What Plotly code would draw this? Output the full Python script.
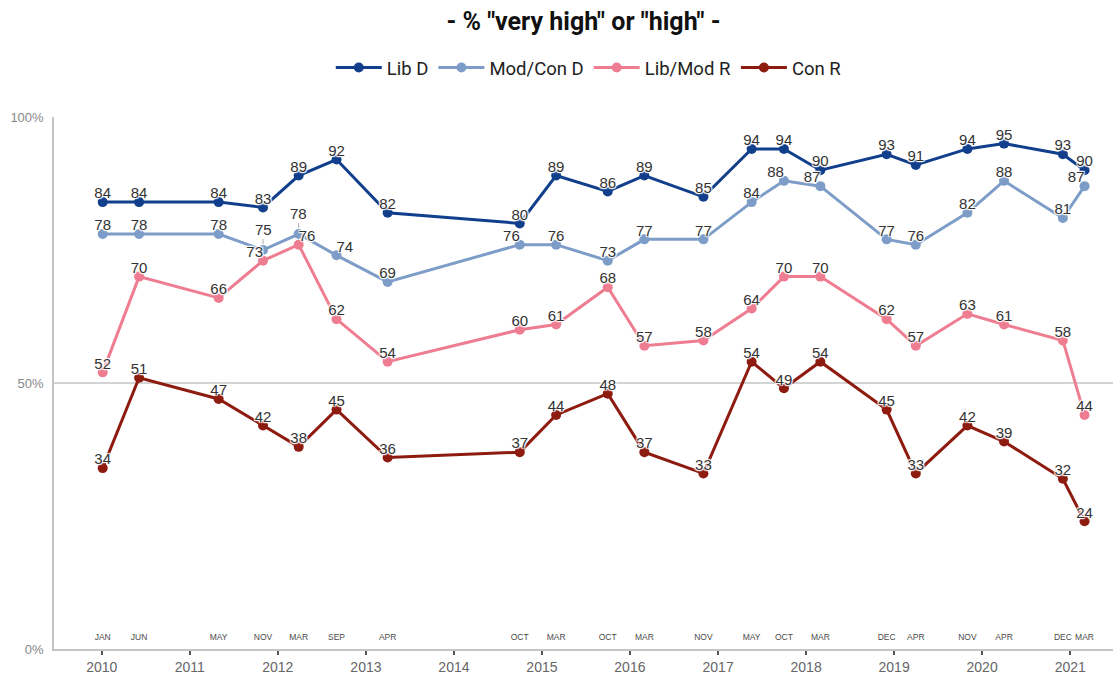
import plotly.graph_objects as go

# ---------------- data ----------------
dates = ["2010-01-05", "2010-06-05", "2011-05-01", "2011-11-01", "2012-03-28",
         "2012-09-01", "2013-04-01", "2014-10-01", "2015-03-01", "2015-10-01",
         "2016-03-01", "2016-11-01", "2017-05-20", "2017-10-01", "2018-03-01",
         "2018-12-01", "2019-04-01", "2019-11-01", "2020-04-01", "2020-12-01",
         "2021-03-01"]
month_labels = ["JAN", "JUN", "MAY", "NOV", "MAR", "SEP", "APR", "OCT", "MAR", "OCT",
                "MAR", "NOV", "MAY", "OCT", "MAR", "DEC", "APR", "NOV", "APR", "DEC", "MAR"]

lib_d =     [84, 84, 84, 83, 89, 92, 82, 80, 89, 86, 89, 85, 94, 94, 90, 93, 91, 94, 95, 93, 90]
modcon_d =  [78, 78, 78, 75, 78, 74, 69, 76, 76, 73, 77, 77, 84, 88, 87, 77, 76, 82, 88, 81, 87]
libmod_r =  [52, 70, 66, 73, 76, 62, 54, 60, 61, 68, 57, 58, 64, 70, 70, 62, 57, 63, 61, 58, 44]
con_r =     [34, 51, 47, 42, 38, 45, 36, 37, 44, 48, 37, 33, 54, 49, 54, 45, 33, 42, 39, 32, 24]

series_names = ["Lib D", "Mod/Con D", "Lib/Mod R", "Con R"]
series_values = [lib_d, modcon_d, libmod_r, con_r]
series_colors = ["#123f8c", "#7d9dc8", "#ef7d91", "#8e1b10"]

year_ticks = [f"{y}-01-01" for y in range(2010, 2022)]
year_labels = [str(y) for y in range(2010, 2022)]
y_ticks = [0, 50, 100]
y_labels = ["0%", "50%", "100%"]

# label placement tweaks (index -> position); None = use leader annotation
label_pos = {
    "Lib D": {},
    "Mod/Con D": {3: None, 4: None, 5: "top right", 7: "top left", 13: "top left",
                  14: "top left", 20: "top left"},
    "Lib/Mod R": {3: "top left", 4: "top right"},
    "Con R": {},
}

fig = go.Figure()

for name, vals, col in zip(series_names, series_values, series_colors):
    fig.add_trace(go.Scatter(
        x=dates, y=vals, name=name, mode="lines+markers",
        line=dict(color=col, width=3),
        marker=dict(color=col, size=10),
        showlegend=True,
    ))

halo = "1px 1px 1px #fff, -1px -1px 1px #fff, 1px -1px 1px #fff, -1px 1px 1px #fff, 0px 0px 2px #fff"
for name, vals in zip(series_names, series_values):
    tweaks = label_pos[name]
    texts, poss = [], []
    for i, v in enumerate(vals):
        p = tweaks.get(i, "top center")
        if i in tweaks and p is None:
            texts.append("")
            poss.append("top center")
            fig.add_annotation(
                x=dates[i], y=v, text=str(v), showarrow=True, arrowhead=0,
                arrowwidth=1, arrowcolor="#aaaaaa", ax=0, ay=-21, standoff=6,
                font=dict(family="Liberation Sans, Arial", size=15, color="#333333"),
            )
        else:
            texts.append(str(v))
            poss.append(p)
    fig.add_trace(go.Scatter(
        x=dates, y=vals, mode="text", text=texts, textposition=poss,
        textfont=dict(family="Liberation Sans, Arial", size=15, color="#333333",
                      shadow=halo),
        showlegend=False, cliponaxis=False, hoverinfo="skip",
    ))

# month labels along bottom
fig.add_trace(go.Scatter(
    x=dates, y=[2] * len(dates), mode="text", text=month_labels,
    textposition="middle center",
    textfont=dict(family="Liberation Sans, Arial", size=8.5, color="#4a4a4a"),
    showlegend=False, cliponaxis=False, hoverinfo="skip",
))

fig.add_shape(type="line", xref="paper", x0=0, x1=1, yref="y", y0=50, y1=50,
              line=dict(color="#c4c4c4", width=1.5), layer="below")

fig.update_layout(
    width=1113, height=675,
    margin=dict(l=54, r=0, t=117, b=24),
    paper_bgcolor="white", plot_bgcolor="white",
    title=dict(text='- % "very high" or "high" -', x=0.5, xref="paper",
               y=1 - 21 / 675, yref="container", yanchor="middle",
               font=dict(family="Roboto", size=25, color="#111111", weight=700)),
    legend=dict(orientation="h", x=0.505, xanchor="center", xref="paper",
                y=1.092, yanchor="middle",
                font=dict(family="Roboto", size=18.5, color="#222222"),
                itemwidth=46),
    showlegend=True,
)

fig.update_xaxes(
    type="date", range=["2009-06-17", "2021-06-27"],
    tickvals=year_ticks, ticktext=year_labels,
    ticks="outside", ticklen=4, tickwidth=2, tickcolor="#555555",
    showline=True, linecolor="#c4c4c4", linewidth=2,
    showgrid=False, zeroline=False,
    tickfont=dict(family="Liberation Sans, Arial", size=14, color="#666666"),
)
fig.update_yaxes(
    range=[0, 100], tickvals=y_ticks, ticktext=y_labels,
    showline=True, linecolor="#c4c4c4", linewidth=1.5,
    showgrid=False, zeroline=False, ticks="", ticklabelstandoff=6,
    tickfont=dict(family="Liberation Sans, Arial", size=13, color="#888888"),
)

fig.write_html(
    "out.html",
    config={"displayModeBar": False},
    post_script="document.body.style.margin='0';document.body.style.overflow='hidden';",
)
